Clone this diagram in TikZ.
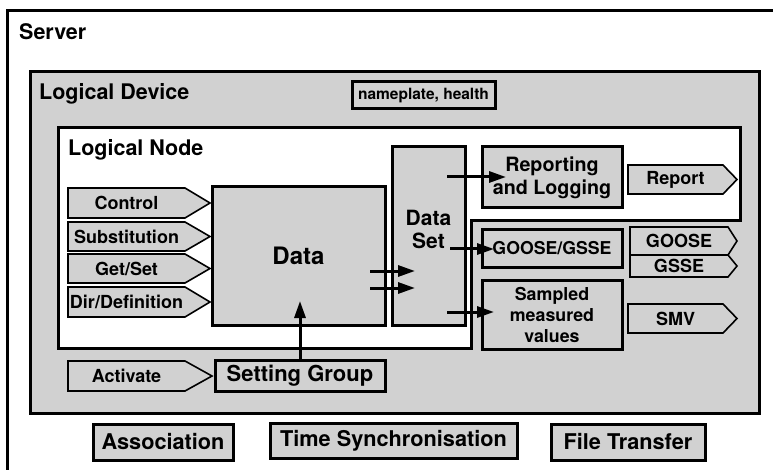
\documentclass[tikz,border=0pt]{standalone}
\usepackage{fontspec}
\setmainfont{TeX Gyre Heros}
\usetikzlibrary{arrows.meta}
\definecolor{boxgray}{HTML}{D1D1D1}
\tikzset{
  box/.style={draw=black, line width=3pt, fill=boxgray, inner sep=0pt, align=center,
    font=\bfseries\fontsize{18}{21}\selectfont},
  sigshape/.style={draw=black, line width=1.6pt, fill=boxgray, line join=miter},
  lbl/.style={font=\bfseries\fontsize{18}{21}\selectfont, inner sep=0pt, align=center},
  ttl/.style={font=\bfseries\fontsize{21.5}{24}\selectfont, anchor=base west, inner sep=0pt},
  frame/.style={draw=black, line width=3pt},
  conn/.style={line width=3pt, -{Triangle[length=17pt,width=11pt]}},
}
% name, xleft, ytop, xbody, xtip, ybottom, text
\newcommand{\mysig}[7]{%
  \draw[sigshape] (#2,#3) -- (#4,#3) -- (#5,{(#3+#6)/2}) -- (#4,#6) -- (#2,#6) -- cycle;
  \node[lbl] (#1) at ({(#2+#4)/2},{(#3+#6)/2}) {#7};
}
\begin{document}
\begin{tikzpicture}[x=1pt,y=-1pt]
\useasboundingbox (0,0) rectangle (773,470);
% Server
\draw[frame] (780,11) -- (7,11) -- (7,478);
\node[ttl] (server) at (19,40) {Server};
% Logical Device
\draw[frame, fill=boxgray] (30,72) rectangle (759,413);
\node[ttl] (ld) at (39,100) {Logical Device};
\node[box, minimum width=143pt, minimum height=27pt, font=\bfseries\fontsize{15.5}{18}\selectfont] (nameplate) at (423.5,95.5) {nameplate, health};
% Logical Node
\draw[frame, fill=white] (58,128) -- (740,128) -- (740,221) -- (471,221) -- (471,348) -- (58,348) -- cycle;
\node[ttl] (ln) at (68,156) {Logical Node};
% Inputs
\mysig{control}{68}{188}{185}{210}{218}{Control}
\mysig{subst}{68}{222}{185}{210}{251}{Substitution}
\mysig{getset}{68}{254}{185}{210}{283}{Get/Set}
\mysig{dirdef}{68}{287}{185}{210}{317}{Dir/Definition}
\mysig{activate}{68}{361}{185}{212}{391}{Activate}
% Data
\node[box, minimum width=173pt, minimum height=138pt, font=\bfseries\fontsize{24}{28}\selectfont] (data) at (298.5,256) {Data};
\node[box, minimum width=170pt, minimum height=31pt, font=\bfseries\fontsize{22}{26}\selectfont] (sg) at (300,375.5) {Setting Group};
% Data Set
\node[box, minimum width=73pt, minimum height=178pt] (dataset) at (428.5,236) {};
\node[lbl, font=\bfseries\fontsize{21}{23}\selectfont] (dslabel) at (428.5,229) {Data\\Set};
% Service boxes
\node[box, minimum width=140pt, minimum height=61pt, font=\bfseries\fontsize{19.7}{23}\selectfont] (rep) at (552,177.5) {Reporting\\and Logging};
\node[box, minimum width=140pt, minimum height=37pt, font=\bfseries\fontsize{17.7}{21}\selectfont] (goosegsse) at (552,248.5) {GOOSE/GSSE};
\node[box, minimum width=140pt, minimum height=69pt, font=\bfseries\fontsize{17.8}{21}\selectfont] (smv) at (552,314.5) {Sampled\\measured\\values};
% Outputs
\mysig{report}{628}{165}{723}{737}{194}{Report}
\mysig{goose}{630}{227}{728}{737}{255}{GOOSE}
\mysig{gsse}{630}{255}{728}{737}{277}{GSSE}
\mysig{smvout}{628}{304}{723}{737}{333}{SMV}
% Connectors
\coordinate (d1s) at (370,271); \coordinate (d1e) at (415,271);
\coordinate (d2s) at (370,288); \coordinate (d2e) at (415,288);
\draw[conn] (d1s) -- (d1e);
\draw[conn] (d2s) -- (d2e);
\coordinate (sgtip) at (300,301);
\draw[conn] (sg.north) -- (sgtip);
\coordinate (r1s) at (447,177); \coordinate (r1e) at (506,177);
\draw[conn] (r1s) -- (r1e);
\coordinate (g1s) at (450,249); \coordinate (g1e) at (494,249);
\draw[conn] (g1s) -- (g1e);
\coordinate (s1s) at (447,312); \coordinate (s1e) at (494,312);
\draw[conn] (s1s) -- (s1e);
% Bottom
\node[box, minimum width=140pt, minimum height=36pt, font=\bfseries\fontsize{21.7}{25}\selectfont] (assoc) at (163,442) {Association};
\node[box, minimum width=247pt, minimum height=35pt, font=\bfseries\fontsize{21.7}{25}\selectfont] (timesync) at (393.5,441) {Time Synchronisation};
\node[box, minimum width=154pt, minimum height=36pt, font=\bfseries\fontsize{21.7}{25}\selectfont] (filetr) at (628,442) {File Transfer};
\end{tikzpicture}
\end{document}
